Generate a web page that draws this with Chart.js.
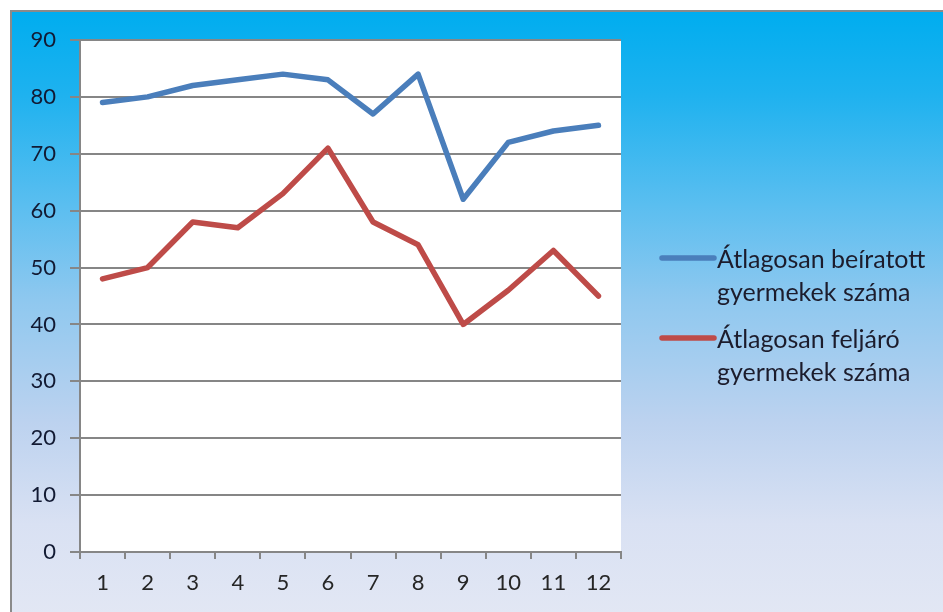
<!DOCTYPE html>
<html>
<head>
<meta charset="utf-8">
<script src="https://cdn.jsdelivr.net/npm/chart.js@4"></script>
<style>
  html, body { margin: 0; padding: 0; background: #ffffff; }
  #frame {
    position: absolute; left: 10px; top: 10px; width: 933px; height: 602px;
    border-top: 2px solid #8a8a8a; border-left: 2px solid #8a8a8a;
    background: linear-gradient(to bottom, #00adef 0%, #1fb2ef 14%, #5abef0 32%, #8fc8ef 48%, #bcd2ef 68%, #d9e1f3 85%, #e2e7f4 100%);
  }
  #wrap { position: absolute; left: 0; top: 0; width: 943px; height: 612px; }
</style>
</head>
<body>
<div id="frame"></div>
<div id="wrap"><canvas id="chart" width="943" height="612"></canvas></div>
<script>
//-----------------------------------------
// DATA
//-----------------------------------------
const months = ["1", "2", "3", "4", "5", "6", "7", "8", "9", "10", "11", "12"];
const enrolled = [79, 80, 82, 83, 84, 83, 77, 84, 62, 72, 74, 75];
const attending = [48, 50, 58, 57, 63, 71, 58, 54, 40, 46, 53, 45];
const seriesNames = [
  ["Átlagosan beíratott", "gyermekek száma"],
  ["Átlagosan feljáró", "gyermekek száma"]
];
const seriesColors = ["#4a7ebb", "#be4b48"];

const FONT = "Lato, 'Open Sans', sans-serif";

//-----------------------------------------
// PLUGINS
//-----------------------------------------
// white plot area
const plotBg = {
  id: "plotBg",
  beforeDraw(chart) {
    const a = chart.chartArea, ctx = chart.ctx;
    ctx.save();
    ctx.fillStyle = "#ffffff";
    ctx.fillRect(a.left, a.top, a.right - a.left, a.bottom - a.top);
    ctx.restore();
  }
};

// legend with wrapped labels on the right
const sideLegend = {
  id: "sideLegend",
  afterDraw(chart) {
    const ctx = chart.ctx;
    const tops = [258, 338];
    ctx.save();
    chart.data.datasets.forEach((ds, i) => {
      const y = tops[i];
      ctx.strokeStyle = ds.borderColor;
      ctx.lineWidth = 5.5;
      ctx.lineCap = "round";
      ctx.beginPath();
      ctx.moveTo(662, y);
      ctx.lineTo(714, y);
      ctx.stroke();
      ctx.fillStyle = "#1c1c2c";
      ctx.font = "25px " + FONT;
      ctx.textBaseline = "middle";
      ctx.textAlign = "left";
      seriesNames[i].forEach((line, j) => {
        ctx.fillText(line, 717, y + 2 + j * 33);
      });
    });
    ctx.restore();
  }
};

//-----------------------------------------
// CHART
//-----------------------------------------
new Chart(document.getElementById("chart"), {
  type: "line",
  data: {
    labels: months,
    datasets: [
      { label: seriesNames[0].join(" "), data: enrolled, borderColor: seriesColors[0] },
      { label: seriesNames[1].join(" "), data: attending, borderColor: seriesColors[1] }
    ]
  },
  options: {
    responsive: false,
    animation: false,
    layout: { padding: { left: 0, top: 40, right: 322, bottom: 0 } },
    elements: {
      line: { borderWidth: 5.5, tension: 0, borderCapStyle: "round", borderJoinStyle: "round" },
      point: { radius: 0 }
    },
    plugins: { legend: { display: false }, tooltip: { enabled: false } },
    scales: {
      x: {
        offset: true,
        grid: { display: true, drawOnChartArea: false, drawTicks: true, tickLength: 7, color: "#868686", lineWidth: 2, offset: true },
        border: { color: "#868686", width: 2 },
        ticks: { color: "#262626", font: { family: FONT, size: 22 }, padding: 11, maxRotation: 0 },
        afterFit(s) { s.height = 60; }
      },
      y: {
        min: 0, max: 90,
        ticks: { stepSize: 10, color: "#121a33", font: { family: FONT, size: 22 }, padding: 14 },
        grid: { color: "#868686", lineWidth: 2, tickLength: 10 },
        border: { color: "#868686", width: 2 },
        afterFit(s) { s.width = 80; }
      }
    }
  },
  plugins: [plotBg, sideLegend]
});
</script>
</body>
</html>
